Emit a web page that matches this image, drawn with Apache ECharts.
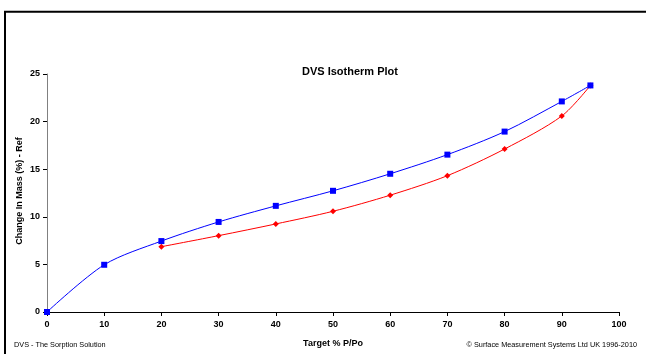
<!DOCTYPE html>
<html><head><meta charset="utf-8">
<script src="https://cdn.jsdelivr.net/npm/echarts@6/dist/echarts.min.js"></script>
<style>html,body{margin:0;padding:0;background:#fff}#c{width:646px;height:354px}</style>
</head><body><div id="c"></div>
<script>
var sorptionX = [0, 10, 20, 30, 40, 50, 60, 70, 80, 90, 95];
var sorptionY = [0, 4.96, 7.45, 9.46, 11.15, 12.73, 14.52, 16.53, 18.95, 22.12, 23.8];
var desorptionX = [95, 90, 80, 70, 60, 50, 40, 30, 20];
var desorptionY = [23.8, 20.59, 17.12, 14.32, 12.27, 10.58, 9.25, 8.02, 6.86];
var xTicks = [0, 100, 10];
var yTicks = [0, 25, 5];

function pairs(xs, ys){ return xs.map(function(x,i){return [x, ys[i]];}); }
var F = 'Liberation Sans, Arial, sans-serif';
var chart = echarts.init(document.getElementById('c'), null, {renderer:'canvas'});
chart.setOption({
  animation:false,
  backgroundColor:'#fff',
  title:{text:'DVS Isotherm Plot', left:345, top:61, textAlign:'center',
    textStyle:{fontFamily:F, fontSize:11, fontWeight:'bold', color:'#000'}},
  grid:{left:47, right:27, top:74, bottom:42},
  xAxis:{type:'value', min:xTicks[0], max:xTicks[1], interval:xTicks[2],
    name:'Target % P/Po', nameLocation:'middle', nameGap:27,
    nameTextStyle:{fontFamily:F, fontSize:9, fontWeight:'bold', color:'#000'},
    axisLine:{lineStyle:{color:'#000', width:1}},
    axisTick:{show:true, inside:false, length:4, lineStyle:{color:'#000'}},
    axisLabel:{fontFamily:F, fontSize:9, fontWeight:'bold', color:'#000', margin:8},
    splitLine:{show:false}},
  yAxis:{type:'value', min:yTicks[0], max:yTicks[1], interval:yTicks[2],
    axisLine:{show:true, lineStyle:{color:'#808080', width:1}},
    axisTick:{show:true, inside:false, length:4, lineStyle:{color:'#000'}},
    axisLabel:{fontFamily:F, fontSize:9, fontWeight:'bold', color:'#000', margin:7},
    splitLine:{show:false}},
  graphic:[
    {type:'rect', shape:{x:5, y:11.8, width:700, height:400}, style:{fill:'none', stroke:'#000', lineWidth:2}, silent:true},
    {type:'text', x:19.5, y:191, rotation:Math.PI/2,
      style:{text:'Change In Mass (%) - Ref', fontFamily:F, fontSize:9, fontWeight:'bold', fill:'#000', textAlign:'center', textVerticalAlign:'middle'}},
    {type:'text', left:14, top:341, style:{text:'DVS - The Sorption Solution', fontFamily:F, fontSize:7.3, fill:'#000'}},
    {type:'text', right:9, top:341, style:{text:'\u00a9 Surface Measurement Systems Ltd UK 1996-2010', fontFamily:F, fontSize:7.3, fill:'#000'}}
  ],
  series:[
    {type:'line', name:'Desorption', data:pairs(desorptionX, desorptionY), smooth:0.3,
      symbol:'diamond', symbolSize:6, itemStyle:{color:'#ff0000'}, lineStyle:{color:'#ff0000', width:1}, z:2},
    {type:'line', name:'Sorption', data:pairs(sorptionX, sorptionY), smooth:0.3,
      symbol:'rect', symbolSize:6, itemStyle:{color:'#0000ff'}, lineStyle:{color:'#0000ff', width:1}, z:3}
  ]
});
</script></body></html>
